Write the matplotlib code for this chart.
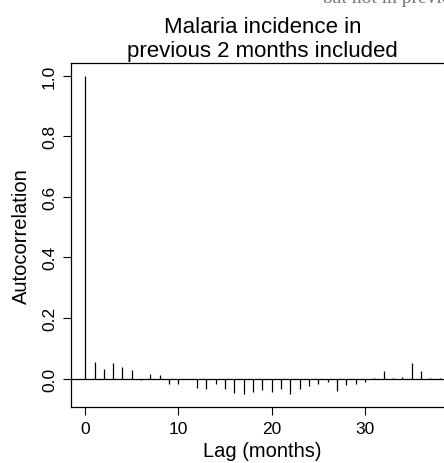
import numpy as np
import matplotlib.pyplot as plt

plt.rcParams['font.family'] = ['Liberation Sans', 'DejaVu Sans']

# autocorrelation of residuals, lags 0..38
lags = np.arange(0, 39)
acf = [1.0, 0.055, 0.033, 0.052, 0.038, 0.029, -0.005, 0.014, 0.011, -0.019,
       -0.019, -0.002, -0.030, -0.034, -0.018, -0.035, -0.047, -0.052, -0.044, -0.038,
       -0.044, -0.036, -0.050, -0.033, -0.024, -0.017, -0.011, -0.041, -0.022, -0.019,
       -0.011, 0.001, 0.024, 0.003, 0.005, 0.050, 0.024, 0.002, 0.001]
xticks = [0, 10, 20, 30]
yticks = [0.0, 0.2, 0.4, 0.6, 0.8, 1.0]

fig = plt.figure(figsize=(4.44, 4.64), dpi=100)
ax = fig.add_axes([71/444, 56/464, (453.8-71)/444, (408-64)/464])

ax.vlines(lags, 0, acf, color='black', lw=0.9)
ax.axhline(0, color='black', lw=0.9)

# R-style 4% padding
r = lags.max() - lags.min()
ax.set_xlim(lags.min() - 0.04*r, lags.max() + 0.04*r)
lo, hi = min(acf), max(acf)
ax.set_ylim(lo - 0.04*(hi-lo), hi + 0.04*(hi-lo))

ax.set_xticks(xticks)
ax.set_xticklabels([str(t) for t in xticks])
ax.set_yticks(yticks)
ax.set_yticklabels(['%.1f' % t for t in yticks], rotation=90, va='center')
ax.tick_params(direction='out', length=6, width=0.8, labelsize=12.5, pad=4)

for s in ax.spines.values():
    s.set_linewidth(0.9)

ax.set_xlabel('Lag (months)', fontsize=14.5, labelpad=4)
ax.set_ylabel('Autocorrelation', fontsize=14.5, labelpad=8)
ax.set_title('Malaria incidence in\nprevious 2 months included', fontsize=16, pad=5, linespacing=1.2)

# clipped title of neighbouring panel
fig.text(322/444, 1 - 3/464, 'but not in previous', family=['Liberation Serif', 'DejaVu Serif'],
         fontsize=14, color='#777777', va='baseline', ha='left')

fig.savefig('out.png', dpi=100)
